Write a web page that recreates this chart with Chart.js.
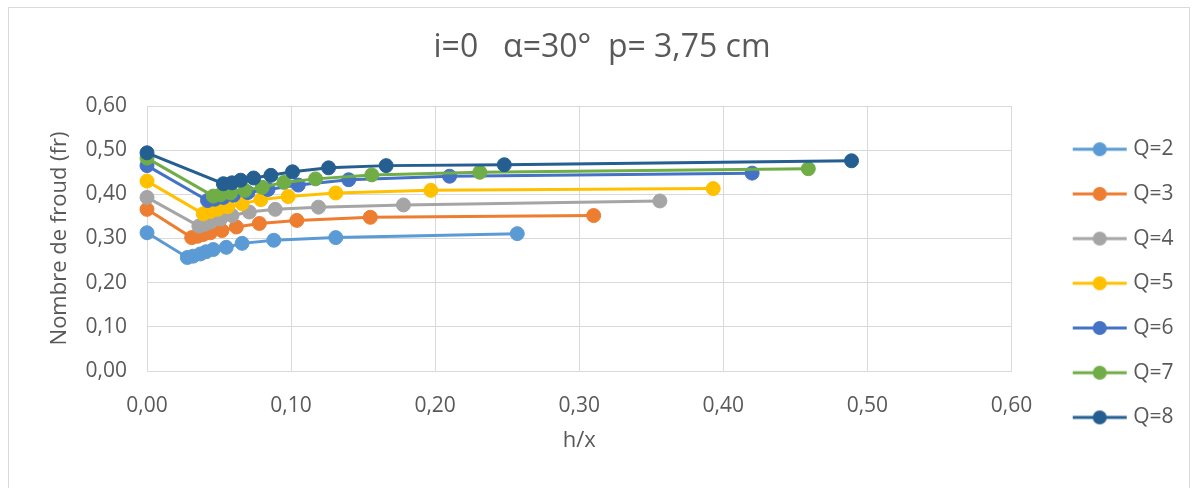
<!DOCTYPE html>
<html>
<head>
<meta charset="utf-8">
<script src="https://cdn.jsdelivr.net/npm/chart.js@4.4.1/dist/chart.umd.min.js"></script>
<style>
  html, body { margin: 0; padding: 0; background: #fff; }
  #wrap { position: relative; width: 1196px; height: 488px; }
  #frame { position: absolute; left: 8px; top: 7px; width: 1180px; height: 500px; border: 1px solid #d9d9d9; pointer-events: none; }
</style>
</head>
<body>
<div id="wrap">
  <canvas id="froud" width="1196" height="488"></canvas>
  <div id="frame"></div>
</div>
<script>
const seriesNames = ['Q=2', 'Q=3', 'Q=4', 'Q=5', 'Q=6', 'Q=7', 'Q=8'];

const xQ2 = [0, 0.028, 0.032, 0.037, 0.041, 0.046, 0.055, 0.066, 0.088, 0.131, 0.257];
const yQ2 = [0.313, 0.257, 0.260, 0.265, 0.270, 0.275, 0.280, 0.289, 0.296, 0.302, 0.311];

const xQ3 = [0, 0.031, 0.035, 0.039, 0.044, 0.052, 0.062, 0.078, 0.104, 0.155, 0.310];
const yQ3 = [0.366, 0.302, 0.305, 0.309, 0.313, 0.318, 0.326, 0.334, 0.341, 0.348, 0.352];

const xQ4 = [0, 0.036, 0.040, 0.044, 0.051, 0.059, 0.071, 0.089, 0.119, 0.178, 0.356];
const yQ4 = [0.393, 0.328, 0.332, 0.337, 0.344, 0.352, 0.360, 0.366, 0.371, 0.376, 0.385];

const xQ5 = [0, 0.039, 0.044, 0.049, 0.056, 0.066, 0.079, 0.098, 0.131, 0.197, 0.393];
const yQ5 = [0.430, 0.356, 0.361, 0.366, 0.372, 0.379, 0.388, 0.395, 0.403, 0.409, 0.413];

const xQ6 = [0, 0.042, 0.047, 0.053, 0.060, 0.070, 0.084, 0.105, 0.140, 0.210, 0.420];
const yQ6 = [0.465, 0.386, 0.389, 0.393, 0.398, 0.404, 0.411, 0.421, 0.433, 0.441, 0.448];

const xQ7 = [0, 0.046, 0.051, 0.058, 0.068, 0.080, 0.095, 0.117, 0.156, 0.231, 0.459];
const yQ7 = [0.482, 0.396, 0.399, 0.403, 0.409, 0.416, 0.427, 0.435, 0.444, 0.450, 0.458];

const xQ8 = [0, 0.053, 0.059, 0.065, 0.074, 0.086, 0.101, 0.126, 0.166, 0.248, 0.489];
const yQ8 = [0.494, 0.424, 0.426, 0.432, 0.437, 0.443, 0.451, 0.460, 0.465, 0.467, 0.476];

const xValues = [xQ2, xQ3, xQ4, xQ5, xQ6, xQ7, xQ8];
const yValues = [yQ2, yQ3, yQ4, yQ5, yQ6, yQ7, yQ8];

const colors = ['#5b9bd5', '#ed7d31', '#a5a5a5', '#ffc000', '#4472c4', '#70ad47', '#255e91'];
const textColor = '#595959';
const gridColor = '#d9d9d9';
const fontFamily = '"Open Sans", "Noto Sans", sans-serif';

const comma = v => Number(v).toFixed(2).replace('.', ',');

// little line + dot picture for each legend entry
const legendIcon = (color) => {
  const c = document.createElement('canvas');
  c.width = 56;
  c.height = 16;
  const ctx = c.getContext('2d');
  ctx.strokeStyle = color;
  ctx.lineWidth = 3;
  ctx.beginPath();
  ctx.moveTo(1, 8);
  ctx.lineTo(55, 8);
  ctx.stroke();
  ctx.fillStyle = color;
  ctx.beginPath();
  ctx.arc(28, 8, 7, 0, Math.PI * 2);
  ctx.fill();
  return c;
};
const icons = colors.map(legendIcon);

// put the legend where Excel had it
const legendSpot = {
  id: 'legendSpot',
  afterLayout(chart) {
    const lg = chart.legend;
    const w = lg.right - lg.left;
    const h = lg.bottom - lg.top;
    lg.left = 1053;
    lg.right = lg.left + w;
    lg.top = 115;
    lg.bottom = lg.top + h;
  },
};

const datasets = seriesNames.map((name, i) => ({
  label: name,
  data: xValues[i].map((x, j) => ({x: x, y: yValues[i][j]})),
  showLine: true,
  borderColor: colors[i],
  backgroundColor: colors[i],
  borderWidth: 3,
  pointRadius: 7,
  pointHoverRadius: 7,
  pointBorderWidth: 1,
  tension: 0,
  clip: false,
  order: seriesNames.length - i,
}));

const initChart = () => {
  Chart.defaults.font.family = fontFamily;
  Chart.defaults.color = textColor;

  const config = {
    type: 'scatter',
    data: {datasets: datasets},
    options: {
      responsive: false,
      animation: false,
      devicePixelRatio: 1,
      // left/right padding kept uneven so the title sits where Excel put it
      layout: {padding: {left: 62, right: 54, top: 0, bottom: 0}},
      plugins: {
        title: {
          display: true,
          text: 'i=0   α=30°  p= 3,75 cm',
          color: textColor,
          font: {size: 32, weight: 'normal'},
          padding: {top: 28.3, bottom: 39.3},
        },
        legend: {
          position: 'right',
          align: 'start',
          labels: {
            usePointStyle: true,
            pointStyleWidth: 46,
            padding: 23.7,
            color: textColor,
            font: {size: 21},
            sort: (a, b) => a.datasetIndex - b.datasetIndex,
            generateLabels: (chart) => {
              const items = Chart.defaults.plugins.legend.labels.generateLabels(chart);
              items.forEach(it => { it.pointStyle = icons[it.datasetIndex]; });
              return items;
            },
          },
        },
        tooltip: {enabled: false},
      },
      scales: {
        x: {
          type: 'linear',
          min: 0,
          max: 0.6,
          ticks: {stepSize: 0.1, padding: 22, color: textColor, font: {size: 21}, callback: comma},
          grid: {color: gridColor, lineWidth: 1, drawTicks: false},
          border: {color: gridColor},
          title: {display: true, text: 'h/x', color: textColor, font: {size: 22}, padding: {top: 34, bottom: 34}},
          afterFit: (scale) => { scale.height = 117; },
        },
        y: {
          min: 0,
          max: 0.6,
          ticks: {stepSize: 0.1, padding: 20, color: textColor, font: {size: 21}, callback: comma},
          grid: {color: gridColor, lineWidth: 1, drawTicks: false},
          border: {color: gridColor},
          title: {display: true, text: 'Nombre de froud (fr)', color: textColor, font: {size: 22}, padding: {top: -15, bottom: 0}},
          afterFit: (scale) => { scale.width = 85; },
        },
      },
    },
    plugins: [legendSpot],
  };

  new Chart(document.getElementById('froud'), config);
};

document.addEventListener('DOMContentLoaded', () => {
  if (!document.querySelector('#froud')) return;
  initChart();
});
</script>
</body>
</html>
